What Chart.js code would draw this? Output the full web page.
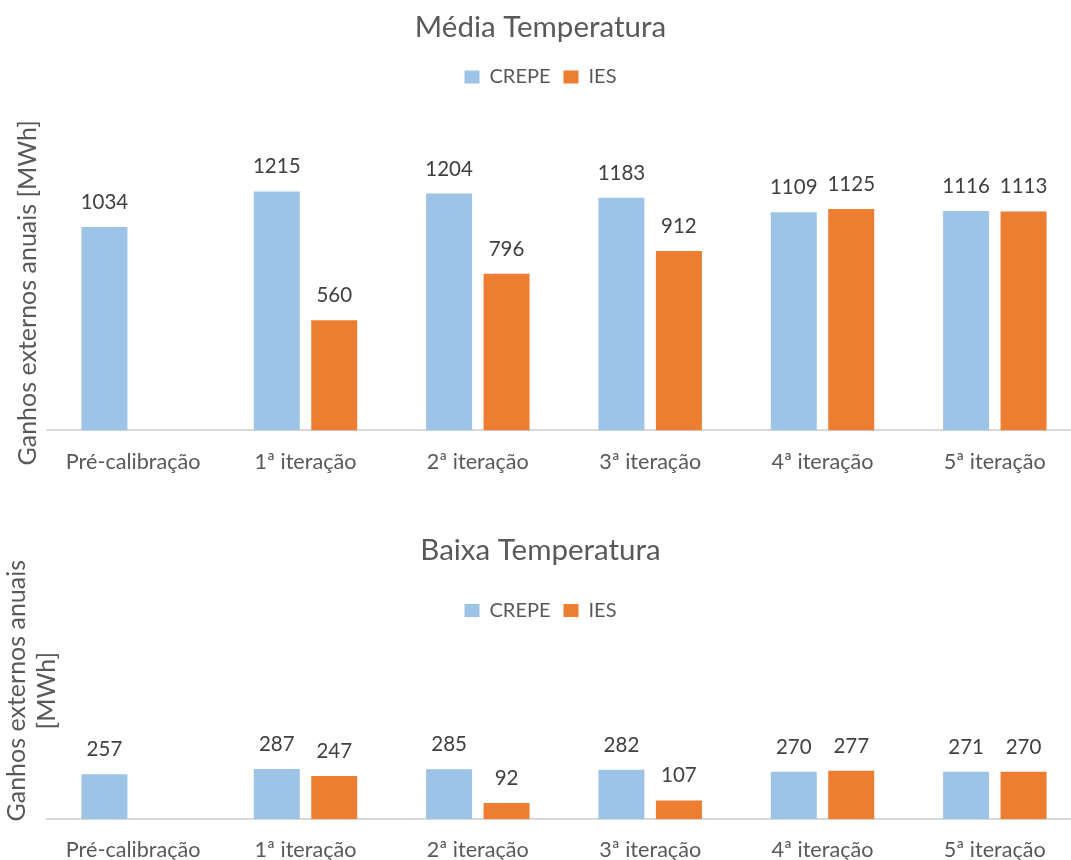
<!DOCTYPE html>
<html>
<head>
<meta charset="utf-8">
<script src="https://cdn.jsdelivr.net/npm/chart.js@4.4.1/dist/chart.umd.min.js"></script>
<style>
  html, body { margin: 0; padding: 0; background: #fff; }
  body { width: 1071px; height: 860px; overflow: hidden; position: relative; }
  .box { position: absolute; left: 0; width: 1087px; }
</style>
</head>
<body>
<div class="box" style="top:0; height:500px;"><canvas id="media"></canvas></div>
<div class="box" style="top:500px; height:390px;"><canvas id="baixa"></canvas></div>
<script>
const categories = ["Pré-calibração", "1ª iteração", "2ª iteração", "3ª iteração", "4ª iteração", "5ª iteração"];
const mediaCrepe = [1034, 1215, 1204, 1183, 1109, 1116];
const mediaIes = [null, 560, 796, 912, 1125, 1113];
const baixaCrepe = [257, 287, 285, 282, 270, 271];
const baixaIes = [null, 247, 92, 107, 277, 270];

Chart.defaults.font.family = "Lato";
Chart.defaults.color = "#595959";

// numbers above the bars
const valueLabels = {
    id: "valueLabels",
    afterDatasetsDraw(chart) {
        const ctx = chart.ctx;
        ctx.save();
        ctx.font = "20.5px Lato";
        ctx.fillStyle = "#404040";
        ctx.textAlign = "center";
        ctx.textBaseline = "alphabetic";
        chart.data.datasets.forEach((ds, i) => {
            chart.getDatasetMeta(i).data.forEach((bar, j) => {
                const v = ds.data[j];
                if (v === null) return;
                ctx.fillText(String(v), bar.x, bar.y - 18);
            });
        });
        ctx.restore();
    },
};

function datasets(crepe, ies) {
    return [
        { label: "CREPE", data: crepe, backgroundColor: "#9DC3E6", borderWidth: 0,
          categoryPercentage: 0.667, barPercentage: 0.8 },
        { label: "IES", data: ies, backgroundColor: "#ED7D31", borderWidth: 0,
          categoryPercentage: 0.667, barPercentage: 0.8 },
    ];
}

function xScale() {
    return {
        z: 1,
        grid: { display: false, drawTicks: false },
        border: { display: true, color: "#D9D9D9", width: 2 },
        ticks: { font: { size: 21.6 }, color: "#595959", padding: 18.1, autoSkip: false, maxRotation: 0 },
    };
}

const legendOpts = {
    position: "top",
    labels: { boxWidth: 15, boxHeight: 13, padding: 13, font: { size: 20 }, color: "#595959" },
};

// Média Temperatura
new Chart(document.getElementById("media"), {
    type: "bar",
    data: { labels: categories, datasets: datasets(mediaCrepe, mediaIes) },
    options: {
        responsive: true,
        maintainAspectRatio: false,
        animation: false,
        layout: { padding: { left: 0, right: 6, top: 0, bottom: 7.4 } },
        scales: {
            x: xScale(),
            y: {
                min: 0,
                max: 1400,
                grid: { display: false, drawTicks: false },
                border: { display: false },
                ticks: { display: false },
                title: {
                    display: true,
                    text: "Ganhos externos anuais [MWh]",
                    font: { size: 25 },
                    color: "#595959",
                    padding: { top: 12.5, bottom: 4.5 },
                },
            },
        },
        plugins: {
            title: {
                display: true,
                text: "Média Temperatura",
                font: { size: 29.5, weight: "normal" },
                color: "#595959",
                padding: { top: 9.3, bottom: 9.3 },
            },
            legend: legendOpts,
            // empty gap between legend and plot
            subtitle: {
                display: true,
                text: "",
                weight: 500,
                font: { size: 1 },
                padding: { top: 56.8, bottom: 0 },
            },
            tooltip: { enabled: false },
        },
    },
    plugins: [valueLabels],
});

// Baixa Temperatura
new Chart(document.getElementById("baixa"), {
    type: "bar",
    data: { labels: categories, datasets: datasets(baixaCrepe, baixaIes) },
    options: {
        responsive: true,
        maintainAspectRatio: false,
        animation: false,
        layout: { padding: { left: 0, right: 6, top: 0, bottom: 8.6 } },
        scales: {
            x: xScale(),
            y: {
                display: false,
                min: 0,
                max: 1075,
            },
        },
        plugins: {
            title: {
                display: true,
                text: "Baixa Temperatura",
                font: { size: 29.5, weight: "normal" },
                color: "#595959",
                padding: { top: 32.8, bottom: 19.3 },
            },
            legend: legendOpts,
            // axis title, centred on the whole panel like the original
            subtitle: {
                display: true,
                position: "left",
                text: ["Ganhos externos anuais", "[MWh]"],
                font: { size: 25, lineHeight: 1.2 },
                color: "#595959",
                padding: { top: 1.5, bottom: -14.5 },
            },
            tooltip: { enabled: false },
        },
    },
    plugins: [valueLabels],
});
</script>
</body>
</html>
